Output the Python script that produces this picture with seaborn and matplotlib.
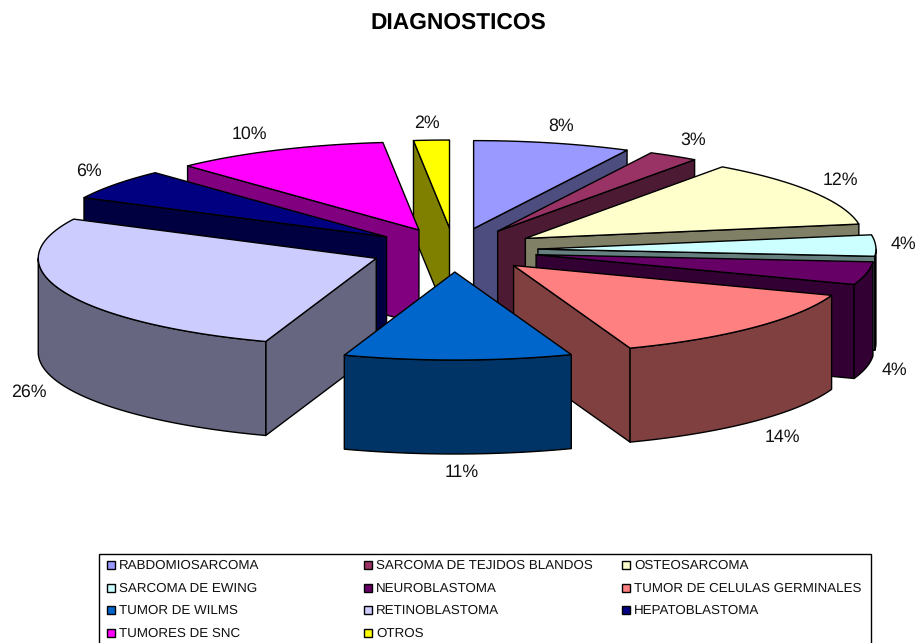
import numpy as np
import matplotlib
matplotlib.use("Agg")
import matplotlib.pyplot as plt
from matplotlib.patches import Polygon, Rectangle
import seaborn as sns

# ---- data ----
categories = ["RABDOMIOSARCOMA", "SARCOMA DE TEJIDOS BLANDOS", "OSTEOSARCOMA",
              "SARCOMA DE EWING", "NEUROBLASTOMA", "TUMOR DE CELULAS GERMINALES",
              "TUMOR DE WILMS", "RETINOBLASTOMA", "HEPATOBLASTOMA",
              "TUMORES DE SNC", "OTROS"]
values = [7.5, 2.4, 12.5, 3.9, 4.2, 13.9, 10.9, 27.05, 5.65, 10.3, 1.7]
percent_labels = ["8%", "3%", "12%", "4%", "4%", "14%", "11%", "26%", "6%", "10%", "2%"]
colors = ["#9999FF", "#993366", "#FFFFCC", "#CCFFFF", "#660066", "#FF8080",
          "#0066CC", "#CCCCFF", "#000080", "#FF00FF", "#FFFF00"]
title = "DIAGNOSTICOS"

# ---- layout (pixels) ----
label_x = [561, 693, 840, 903, 894, 782, 462, 29, 89, 249, 427]
label_y = [126, 140, 180, 244, 370, 437, 472, 392, 171, 134, 123]
CX, CY, RX, RY = 454.0, 250.0, 338.0, 88.0
EX, EY = 84.0, 22.0
DEPTH = 94.0
LW = 1.0

sns.set_theme(style="white")
plt.rcParams["font.family"] = ["Liberation Sans", "DejaVu Sans"]
plt.rcParams["text.hinting"] = "no_hinting"
plt.rcParams["text.hinting_factor"] = 8
palette = sns.color_palette(colors)

fig = plt.figure(figsize=(9.2, 6.43), dpi=100, facecolor="white")
ax = fig.add_axes([0, 0, 1, 1])
ax.set_xlim(0, 920)
ax.set_ylim(643, 0)
ax.axis("off")

vals = np.asarray(values, dtype=float)
edges = np.concatenate([[0], np.cumsum(vals)]) / vals.sum() * 360.0
mids = (edges[:-1] + edges[1:]) / 2


def rim(theta, ax0, ay0):
    t = np.radians(theta)
    return np.column_stack([ax0 + RX * np.sin(t), ay0 - RY * np.cos(t)])


def add_poly(pts, fc, z):
    ax.add_patch(Polygon(pts, closed=True, facecolor=fc, edgecolor="black",
                         linewidth=LW, joinstyle="round", zorder=z))


order = np.argsort(-np.cos(np.radians(mids)))
z = 1
for i in order:
    a0, a1 = edges[i], edges[i + 1]
    top = palette[i]
    side = tuple(c * 0.5 for c in top)
    m = np.radians(mids[i])
    ox, oy = CX + EX * np.sin(m), CY - EY * np.cos(m)
    apex = np.array([[ox, oy]])
    down = np.array([0, DEPTH])
    # radial walls facing the viewer
    if a0 > 180:
        p = rim(np.array([a0]), ox, oy)
        add_poly(np.vstack([apex, p, p + down, apex + down]), side, z); z += 1
    if a1 < 180:
        p = rim(np.array([a1]), ox, oy)
        add_poly(np.vstack([apex, p, p + down, apex + down]), side, z); z += 1
    # outer wall
    b0, b1 = max(a0, 90), min(a1, 270)
    if b1 > b0:
        arc = rim(np.linspace(b0, b1, 80), ox, oy)
        add_poly(np.vstack([arc, (arc + down)[::-1]]), side, z); z += 1
    # top face
    arc = rim(np.linspace(a0, a1, 120), ox, oy)
    add_poly(np.vstack([apex, arc]), top, z); z += 1

# percent labels
for s, x, y in zip(percent_labels, label_x, label_y):
    ax.text(x, y, s, ha="center", va="center",
            fontsize=12.8, color="#111111", zorder=100)

ax.text(458, 23, title, ha="center", va="center", fontsize=16.4,
        fontweight="bold", color="black")

# legend box
ax.add_patch(Rectangle((99.5, 553.5), 772, 100, facecolor="white",
                       edgecolor="black", linewidth=1.0, zorder=100))
col_x = [107, 364, 622]
row_y = [565, 588, 610, 633]
for i, (name, col) in enumerate(zip(categories, palette)):
    x = col_x[i % 3]
    y = row_y[i // 3]
    ax.add_patch(Rectangle((x, y - 4), 8, 8, facecolor=col, edgecolor="black",
                           linewidth=1.0, zorder=101))
    ax.text(x + 12, y + 1, name, ha="left", va="center", fontsize=9.6,
            color="#111111", zorder=101)

fig.savefig("out.png", dpi=100, facecolor="white")
